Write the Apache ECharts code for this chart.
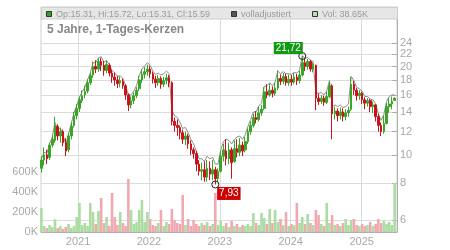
<!DOCTYPE html>
<html><head><meta charset="utf-8">
<script src="https://cdn.jsdelivr.net/npm/echarts@6/dist/echarts.min.js"></script>
<style>html,body{margin:0;padding:0;background:#fff}#c{width:450px;height:250px}</style>
</head><body><div id="c"></div>
<script>
// bi-weekly candles
const DATES = ['2020-06-26','2020-07-10','2020-07-24','2020-08-07','2020-08-21','2020-09-04','2020-09-18','2020-10-02','2020-10-16','2020-10-30',
'2020-11-13','2020-11-27','2020-12-11','2020-12-25','2021-01-08','2021-01-22','2021-02-05','2021-02-19','2021-03-05','2021-03-19',
'2021-04-02','2021-04-16','2021-04-30','2021-05-14','2021-05-28','2021-06-11','2021-06-25','2021-07-09','2021-07-23','2021-08-06',
'2021-08-20','2021-09-03','2021-09-17','2021-10-01','2021-10-15','2021-10-29','2021-11-12','2021-11-26','2021-12-10','2021-12-24',
'2022-01-07','2022-01-21','2022-02-04','2022-02-18','2022-03-04','2022-03-18','2022-04-01','2022-04-15','2022-04-29','2022-05-13',
'2022-05-27','2022-06-10','2022-06-24','2022-07-08','2022-07-22','2022-08-05','2022-08-19','2022-09-02','2022-09-16','2022-09-30',
'2022-10-14','2022-10-28','2022-11-11','2022-11-25','2022-12-09','2022-12-23','2023-01-06','2023-01-20','2023-02-03','2023-02-17',
'2023-03-03','2023-03-17','2023-03-31','2023-04-14','2023-04-28','2023-05-12','2023-05-26','2023-06-09','2023-06-23','2023-07-07',
'2023-07-21','2023-08-04','2023-08-18','2023-09-01','2023-09-15','2023-09-29','2023-10-13','2023-10-27','2023-11-10','2023-11-24',
'2023-12-08','2023-12-22','2024-01-05','2024-01-19','2024-02-02','2024-02-16','2024-03-01','2024-03-15','2024-03-29','2024-04-12',
'2024-04-26','2024-05-10','2024-05-24','2024-06-07','2024-06-21','2024-07-05','2024-07-19','2024-08-02','2024-08-16','2024-08-30',
'2024-09-13','2024-09-27','2024-10-11','2024-10-25','2024-11-08','2024-11-22','2024-12-06','2024-12-20','2025-01-03','2025-01-17',
'2025-01-31','2025-02-14','2025-02-28','2025-03-14','2025-03-28','2025-04-11','2025-04-25','2025-05-09','2025-05-23','2025-06-06',
'2025-06-20'];
const OPEN = [9.0,9.6,10.0,9.8,10.8,11.2,12.5,11.6,12.0,11.0,
10.4,11.6,12.6,13.6,14.4,15.3,16.0,16.5,17.6,18.7,
20.0,19.6,20.8,20.2,19.4,20.2,19.0,18.4,18.0,17.6,
17.8,17.2,16.0,14.8,15.3,15.9,16.8,18.0,18.8,19.2,
19.6,18.9,18.1,17.6,18.2,17.4,17.9,18.3,17.6,13.0,
12.6,12.4,11.9,11.3,11.6,10.9,10.4,10.1,9.3,8.8,
8.9,8.4,9.0,8.6,8.9,8.3,8.8,9.9,10.3,9.7,
10.4,9.5,10.5,10.2,10.8,10.4,11.1,12.0,12.6,13.4,
13.2,13.9,14.4,16.4,16.0,16.6,16.2,16.9,18.2,17.8,
18.5,17.6,18.1,17.7,18.4,17.9,18.7,20.6,20.0,20.8,
19.6,20.2,15.6,15.2,15.6,15.1,15.8,17.2,13.8,14.1,
13.6,14.0,13.5,13.9,14.3,17.4,16.6,15.9,16.2,15.4,
15.0,15.3,14.6,14.8,13.5,12.6,12.0,12.8,14.6,14.9,
15.31];
const CLOSE = [9.6,10.0,9.7,10.8,11.3,12.6,11.6,12.0,11.0,10.3,
11.6,12.5,13.6,14.4,15.4,15.9,16.4,17.6,18.6,20.0,
19.6,20.8,20.2,19.4,20.3,19.0,18.4,18.0,17.5,17.9,
17.2,16.0,14.8,15.3,15.9,16.6,18.0,18.8,19.2,19.6,
18.9,18.1,17.6,18.2,17.4,17.9,18.3,17.6,13.0,12.6,
12.4,11.9,11.3,11.6,10.9,10.4,10.1,9.3,8.8,8.9,
8.4,9.0,8.6,8.9,8.3,8.8,9.9,10.4,9.7,10.4,
9.4,10.5,10.2,10.8,10.3,11.1,12.0,12.6,13.4,13.2,
13.9,14.3,16.4,16.0,16.6,16.2,16.9,18.2,17.8,18.5,
17.6,18.1,17.7,18.4,17.9,18.7,20.6,20.0,20.8,19.6,
20.2,15.6,15.2,15.6,15.1,15.8,17.2,13.8,14.1,13.6,
14.0,13.5,13.9,14.2,17.4,16.6,15.9,16.2,15.4,15.0,
15.3,14.6,14.8,13.5,12.6,12.0,12.8,14.6,14.9,15.2,
15.59];
const LOW = [8.7,9.2,9.3,9.6,10.6,11.0,11.2,11.0,10.7,9.9,
10.2,11.3,12.4,13.2,14.0,15.0,15.6,16.2,17.3,18.3,
19.0,19.2,19.3,18.6,19.0,18.5,17.6,17.2,16.9,17.0,
16.8,15.4,14.1,14.4,14.9,15.6,16.5,17.6,18.2,18.6,
18.3,17.5,16.9,17.2,16.8,17.0,17.4,17.0,12.6,12.0,
11.6,11.3,10.9,10.8,10.5,10.0,9.7,8.8,8.5,8.2,
8.1,8.1,8.2,8.2,7.93,8.1,8.7,9.5,9.2,9.3,
8.3,9.4,9.8,9.9,9.9,10.2,10.9,11.7,12.4,12.8,
13.0,13.6,14.2,15.6,15.8,15.7,15.9,16.6,17.3,17.4,
17.2,17.2,17.2,17.4,17.3,17.5,18.5,19.3,19.5,19.2,
19.1,14.2,14.8,14.9,14.7,14.9,15.6,11.3,13.2,13.0,
13.2,13.0,13.1,13.5,14.1,16.0,15.3,15.4,14.9,14.3,
14.6,14.0,13.9,13.0,12.0,11.6,11.8,12.7,13.9,14.3,
15.31];
const HIGH = [9.9,10.6,10.4,11.0,11.7,13.5,12.7,12.4,12.2,11.4,
11.9,12.9,14.0,14.9,15.8,16.6,17.2,18.1,19.0,20.8,
21.0,21.3,21.4,20.9,21.0,20.5,19.5,19.1,18.6,18.5,
18.2,17.4,16.2,15.8,16.3,17.0,18.6,19.6,19.9,20.3,
20.1,19.2,18.6,18.7,18.5,18.4,18.9,18.7,17.8,13.4,
13.2,12.6,12.2,12.0,11.8,11.2,10.6,10.3,9.6,9.4,
9.5,9.6,9.5,9.6,9.1,9.0,10.3,10.9,11.3,11.0,
10.6,11.2,11.3,11.4,11.1,11.5,12.3,13.0,13.8,14.1,
14.6,14.8,17.0,17.4,17.5,17.1,17.6,19.4,18.8,19.0,
18.9,18.8,18.7,19.0,18.9,19.3,21.72,21.3,21.2,21.0,
20.6,20.3,16.2,16.0,15.9,16.4,17.8,17.4,14.6,14.4,
14.5,14.4,14.3,14.6,18.4,17.9,16.9,16.6,16.4,15.7,
15.6,15.5,15.2,14.9,13.8,12.9,13.6,15.0,15.6,15.8,
15.72];
const ADJUSTED = [9.7,10.2,10.1,10.9,11.5,12.9,12.2,12.3,11.6,10.9,
11.8,12.8,13.9,14.7,15.7,16.4,17.0,18.0,19.0,20.6,
20.6,21.4,21.6,20.7,20.9,20.3,19.4,19.0,18.5,18.6,
18.2,17.2,16.0,16.0,16.5,17.2,18.6,19.6,20.1,20.6,
20.2,19.3,18.8,19.0,18.7,18.9,19.3,18.9,14.2,13.6,
13.4,12.9,12.3,12.4,11.9,11.3,10.9,10.3,9.7,9.7,
9.5,9.9,9.7,9.8,9.3,9.3,10.4,11.1,11.3,11.2,
10.9,11.3,11.5,11.6,11.3,11.7,12.5,13.2,14.0,14.0,
14.7,15.0,17.1,17.2,17.6,17.2,17.7,19.3,18.9,19.2,
18.9,18.9,18.8,19.1,19.0,19.4,21.8,21.3,21.5,21.0,
20.8,16.3,16.2,16.3,16.0,16.5,17.9,14.6,14.8,14.6,
14.8,14.5,14.6,14.9,18.5,17.9,17.0,16.8,16.5,15.8,
15.8,15.5,15.4,14.9,13.8,13.1,13.7,15.2,15.8,16.0,
16.0];
const VOLUME_K = [240,60,40,70,50,127,40,60,30,50,
80,40,60,150,290,70,90,60,290,200,
80,210,340,90,150,60,390,150,70,200,
90,60,530,220,80,100,220,320,100,200,
130,70,60,90,220,60,100,80,230,120,
90,80,370,70,130,60,120,80,60,90,
70,100,60,80,390,70,110,60,90,50,
110,60,80,50,70,60,80,60,190,90,
70,190,140,80,230,90,220,100,130,70,
200,60,80,70,290,90,150,80,180,90,
70,220,170,80,60,290,90,170,70,80,
60,90,130,70,120,130,70,60,80,60,
70,100,60,80,130,90,110,80,100,70,
490];
const PRICE_TICKS = [6,8,10,12,14,16,18,20,22,24];
const VOLUME_TICKS_K = [0,200,400,600];
const YEAR_TICKS = ['2021-01-01','2022-01-01','2023-01-01','2024-01-01','2025-01-01'];
const X_RANGE = ['2020-06-24','2025-07-02'];
const TITLE = '5 Jahre, 1-Tages-Kerzen';
const LEGEND_OHLC = 'Op:15.31, Hi:15.72, Lo:15.31, Cl:15.59';
const LEGEND_ADJ = 'volladjustiert';
const LEGEND_VOL = 'Vol: 38.65K';

const UP = '#3aa526', DOWN = '#c8121c', VUP = '#abdca2', VDOWN = '#f1a9b1';
const FONT = 'Liberation Sans, Arial, sans-serif';
const LBL = '#a8a8a8', GRID = '#dcdcdc';

const T = d => Date.parse(d + 'T00:00:00Z');
let imax = 0, imin = 0;
HIGH.forEach((v, i) => { if (v > HIGH[imax]) imax = i; });
LOW.forEach((v, i) => { if (v < LOW[imin]) imin = i; });
const fmt = v => v.toFixed(2).replace('.', ',');

const chart = echarts.init(document.getElementById('c'), null, {renderer: 'canvas'});
chart.setOption({
  animation: false,
  backgroundColor: '#fff',
  grid: {left: 41, right: 53, top: 7, bottom: 18, show: true, borderColor: '#cfcfcf', borderWidth: 1},
  xAxis: {
    type: 'value', min: T(X_RANGE[0]), max: T(X_RANGE[1]),
    axisLine: {show: true, lineStyle: {color: '#b0b0b0'}},
    axisTick: {show: false, customValues: YEAR_TICKS.map(T)},
    axisLabel: {customValues: YEAR_TICKS.map(T), color: LBL, fontSize: 11, fontFamily: FONT, margin: 4,
      formatter: v => String(new Date(v).getUTCFullYear())},
    splitLine: {show: true, lineStyle: {color: GRID}}
  },
  yAxis: [
    {
      type: 'value', position: 'right', scale: true,
      min: Math.log(6) - 12 / 127.5, max: Math.log(6) + 213 / 127.5,
      axisLine: {show: true, lineStyle: {color: '#b0b0b0'}},
      axisTick: {show: true, inside: true, length: 5, lineStyle: {color: '#b0b0b0'}, customValues: PRICE_TICKS.map(Math.log)},
      axisLabel: {customValues: PRICE_TICKS.map(Math.log), color: LBL, fontSize: 11, fontFamily: FONT, margin: 3,
        formatter: v => String(Math.round(Math.exp(v)))},
      splitLine: {show: true, lineStyle: {color: GRID}}
    },
    {
      type: 'value', position: 'left', min: 0, max: 2247,
      axisLine: {show: false}, axisTick: {show: false, customValues: VOLUME_TICKS_K},
      axisLabel: {customValues: VOLUME_TICKS_K, color: LBL, fontSize: 11, fontFamily: FONT, margin: 3,
        formatter: v => v + 'K'},
      splitLine: {show: false}
    }
  ],
  series: [
    {
      type: 'bar', xAxisIndex: 0, yAxisIndex: 1, barWidth: 2.6, z: 1,
      data: DATES.map((d, i) => ({value: [T(d), VOLUME_K[i]], itemStyle: {color: CLOSE[i] >= OPEN[i] ? VUP : VDOWN}}))
    },
    {
      type: 'line', yAxisIndex: 0, z: 2, showSymbol: false, symbol: 'none',
      lineStyle: {color: '#8c8c8c', width: 1},
      data: DATES.map((d, i) => [T(d), Math.log(ADJUSTED[i])])
    },
    {
      type: 'candlestick', yAxisIndex: 0, z: 3, barWidth: 2.1,
      itemStyle: {color: UP, color0: DOWN, borderColor: UP, borderColor0: DOWN, borderWidth: 1},
      data: DATES.map((d, i) => [T(d), Math.log(OPEN[i]), Math.log(CLOSE[i]), Math.log(LOW[i]), Math.log(HIGH[i])]),
      markPoint: {
        symbol: 'circle', symbolSize: 7, silent: true,
        itemStyle: {color: 'rgba(255,255,255,0)', borderColor: '#222', borderWidth: 1},
        data: [
          {coord: [T(DATES[imax]), Math.log(HIGH[imax])], value: HIGH[imax],
           label: {show: true, position: [-24.5, -10], formatter: fmt(HIGH[imax]), color: '#fff', fontSize: 10, fontFamily: FONT,
             backgroundColor: '#129912', padding: [1, 2, 0, 2], lineHeight: 11}},
          {coord: [T(DATES[imin]), Math.log(LOW[imin])], value: LOW[imin],
           label: {show: true, position: [5.8, 6.5], formatter: fmt(LOW[imin]), color: '#fff', fontSize: 10, fontFamily: FONT,
             backgroundColor: '#cc0000', padding: [1, 2, 1, 2], lineHeight: 11}}
        ]
      }
    }
  ],
  graphic: [
    {type: 'rect', z: 100, shape: {x: 41.5, y: 7.5, width: 356, height: 11.5}, style: {fill: '#e6e6e6', stroke: '#cfcfcf', lineWidth: 1}},
    {type: 'rect', z: 101, shape: {x: 46.5, y: 11.5, width: 5, height: 5}, style: {fill: '#33a02c', stroke: '#333', lineWidth: 1}},
    {type: 'text', z: 101, x: 56, y: 14.5, style: {text: LEGEND_OHLC, fill: '#9a9a9a', font: '9px ' + FONT, verticalAlign: 'middle'}},
    {type: 'rect', z: 101, shape: {x: 231.5, y: 11.5, width: 5, height: 5}, style: {fill: '#555', stroke: '#333', lineWidth: 1}},
    {type: 'text', z: 101, x: 241, y: 14.5, style: {text: LEGEND_ADJ, fill: '#9a9a9a', font: '9px ' + FONT, verticalAlign: 'middle'}},
    {type: 'rect', z: 101, shape: {x: 312.5, y: 11.5, width: 5, height: 5}, style: {fill: '#b8e4b0', stroke: '#333', lineWidth: 1}},
    {type: 'text', z: 101, x: 322, y: 14.5, style: {text: LEGEND_VOL, fill: '#9a9a9a', font: '9px ' + FONT, verticalAlign: 'middle'}},
    {type: 'text', z: 101, x: 47, y: 30, style: {text: TITLE, fill: '#888', font: 'bold 12px ' + FONT, verticalAlign: 'middle'}}
  ]
});
</script></body></html>
